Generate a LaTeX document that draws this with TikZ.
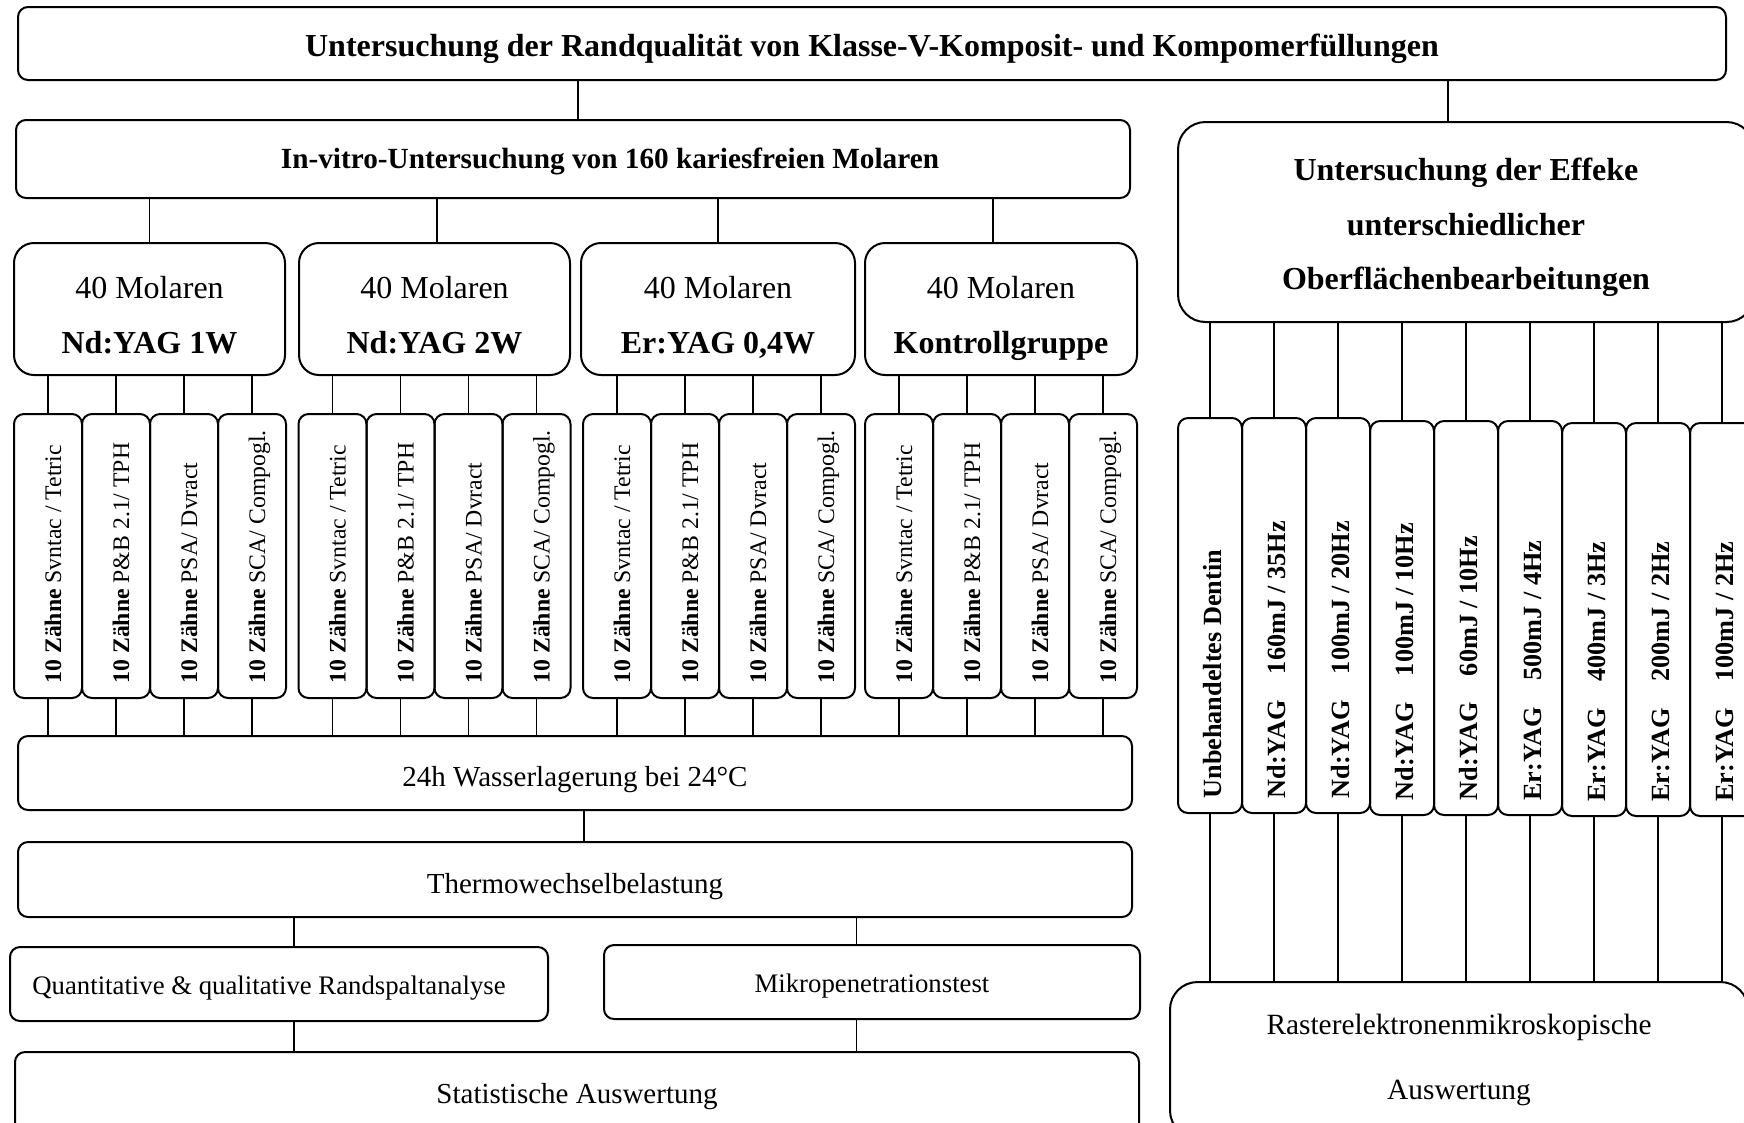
\documentclass[tikz,border=0pt]{standalone}
\usepackage{fontspec}
\setmainfont{Liberation Serif}
\newcommand\lowr[2]{\raisebox{-#1}[\height][\depth]{#2}}
\begin{document}
\begin{tikzpicture}[x=0.4pt,y=-0.4pt,
  rect/.style n args={4}{at={({((#1)+(#3))/2},{((#2)+(#4))/2})},
     minimum width={((#3)-(#1))*0.4pt}, minimum height={((#4)-(#2))*0.4pt}},
  box/.style={draw, line width=0.8pt, inner sep=0pt, rounded corners=#1},
  box/.default=4pt,
  conn/.style={line width=0.6pt},
  bigtext/.style={font=\fontsize{11.6}{14}\selectfont},
  subtext/.style={font=\fontsize{10.7}{13}\selectfont},
  molbox/.style={box=8pt, align=center, text depth=0pt, font=\fontsize{12.8}{22}\selectfont},
  vbox/.style={box=4pt},
  ltext/.style={rotate=90, anchor=base west, inner sep=0pt, font=\fontsize{9.5}{11}\selectfont},
  rtext/.style={rotate=90, anchor=base west, inner sep=0pt, font=\fontsize{10.5}{12}\selectfont\bfseries}
]
\fill[white] (0,0) rectangle (1744,1122);
\useasboundingbox (0,0) rectangle (1744,1122);
\clip (0,0) rectangle (1744,1122);

% top level
\node[box, rect={18}{7}{1726}{80}, font=\fontsize{12.8}{15}\selectfont\bfseries] (title)
  {\lowr{2.2pt}{Untersuchung der Randqualität von Klasse-V-Komposit- und Kompomerfüllungen}};
\node[box, rect={16}{120}{1130}{198}, font=\fontsize{11.7}{14}\selectfont\bfseries] (invitro)
  {\hspace*{29.6pt}\lowr{0.9pt}{In-vitro-Untersuchung von 160 kariesfreien Molaren}};
\node[box=11pt, rect={1178}{122}{1754}{322}, align=center, font=\fontsize{12.8}{21.8}\selectfont\bfseries] (effekte)
  {\lowr{2.2pt}{Untersuchung der Effeke}\\\lowr{2.2pt}{unterschiedlicher}\\\lowr{2.2pt}{Oberflächenbearbeitungen}};

\draw[conn] ([xshift=2pt]invitro.north) -- ([xshift=2pt]invitro.north |- title.south);
\draw[conn] ([xshift=-7.2pt]effekte.north) -- ([xshift=-7.2pt]effekte.north |- title.south);

% Molaren groups
\node[molbox, rect={14}{243}{285}{375}] (m1) {\lowr{2.2pt}{40 Molaren}\\\lowr{2.2pt}{\textbf{Nd:YAG 1W}}};
\node[molbox, rect={299}{243}{570}{375}] (m2) {\lowr{2.2pt}{40 Molaren}\\\lowr{2.2pt}{\textbf{Nd:YAG 2W}}};
\node[molbox, rect={581}{243}{855}{375}] (m3) {\lowr{2.2pt}{40 Molaren}\\\lowr{2.2pt}{\textbf{Er:YAG 0,4W}}};
\node[molbox, rect={865}{243}{1137}{375}] (m4) {\lowr{2.2pt}{40 Molaren}\\\lowr{2.2pt}{\textbf{Kontrollgruppe}}};
\foreach \g/\dx in {1/0pt,2/1pt,3/0pt,4/-3.2pt} {
  \draw[conn] ([xshift=\dx]m\g.north) -- ([xshift=\dx]m\g.north |- invitro.south);
}

% small vertical boxes
\foreach \g/\gx in {1/14,2/298.5,3/583,4/865} {
  \foreach \i/\txt in {1/{Svntac / Tetric},2/{P\&B 2.1/ TPH},3/{PSA/ Dvract},4/{SCA/ Compogl.}} {
    \node[vbox, rect={\gx+68*\i-68}{414}{\gx+68*\i}{698}] (s\g\i) {};
    \node[ltext] (lt\g\i) at ([xshift=5.2pt,yshift=6pt]s\g\i.south) {\textbf{10 Zähne} \txt};
    \draw[conn] (s\g\i.north) -- (s\g\i.north |- m\g.south);
  }
}

% lower left chain
\node[box, rect={18}{736}{1132}{810}, bigtext] (wasser) {\lowr{2.8pt}{24h Wasserlagerung bei 24°C}};
\foreach \g in {1,...,4} {
  \foreach \i in {1,...,4} {
    \draw[conn] (s\g\i.south) -- (s\g\i.south |- wasser.north);
  }
}
\node[box, rect={18}{842}{1132}{917}, bigtext] (thermo) {\lowr{2.9pt}{Thermowechselbelastung}};
\draw[conn] ([xshift=3.6pt]wasser.south) -- ([xshift=3.6pt]wasser.south |- thermo.north);

\node[box, rect={10}{947}{548}{1021}, subtext] (quant) {\lowr{1.6pt}{Quantitative \& qualitative Randspaltanalyse}\hspace*{8pt}\mbox{}};
\node[box, rect={604}{945}{1140}{1019}, subtext] (mikro) {\lowr{1.5pt}{Mikropenetrationstest}};
\node[box, rect={15}{1052}{1139}{1136}, bigtext] (stat) {\lowr{0.9pt}{Statistische Auswertung}};

\draw[conn] ([xshift=6pt]quant.north) -- ([xshift=6pt]quant.north |- thermo.south);
\draw[conn] ([xshift=-6.2pt]mikro.north) -- ([xshift=-6.2pt]mikro.north |- thermo.south);
\draw[conn] ([xshift=6pt]quant.south) -- ([xshift=6pt]quant.south |- stat.north);
\draw[conn] ([xshift=-6.2pt]mikro.south) -- ([xshift=-6.2pt]mikro.south |- stat.north);

% right side
\node[box=11pt, rect={1170}{982}{1748}{1138}, align=center, font=\fontsize{11.75}{26}\selectfont] (raster)
  {Rasterelektronenmikroskopische\\Auswertung};

\foreach \i/\top/\bot/\txt in {
  1/418/813/{Unbehandeltes Dentin},
  2/418/813/{Nd:YAG\hspace{1em}160mJ / 35Hz},
  3/418/813/{Nd:YAG\hspace{1em}100mJ / 20Hz},
  4/421/815/{Nd:YAG\hspace{1em}100mJ / 10Hz},
  5/421/815/{Nd:YAG\hspace{1em}60mJ / 10Hz},
  6/421/815/{Er:YAG\hspace{1em}500mJ / 4Hz},
  7/423/816/{Er:YAG\hspace{1em}400mJ / 3Hz},
  8/423/816/{Er:YAG\hspace{1em}200mJ / 2Hz},
  9/423/816/{Er:YAG\hspace{1em}100mJ / 2Hz}} {
  \node[vbox, rect={1178+64*\i-64}{\top}{1178+64*\i}{\bot}] (r\i) {};
  \node[rtext] (rt\i) at ([xshift=4.4pt,yshift=6pt]r\i.south) {\txt};
  \draw[conn] (r\i.north) -- (r\i.north |- effekte.south);
  \draw[conn] (r\i.south) -- (r\i.south |- raster.north);
}
\end{tikzpicture}
\end{document}
